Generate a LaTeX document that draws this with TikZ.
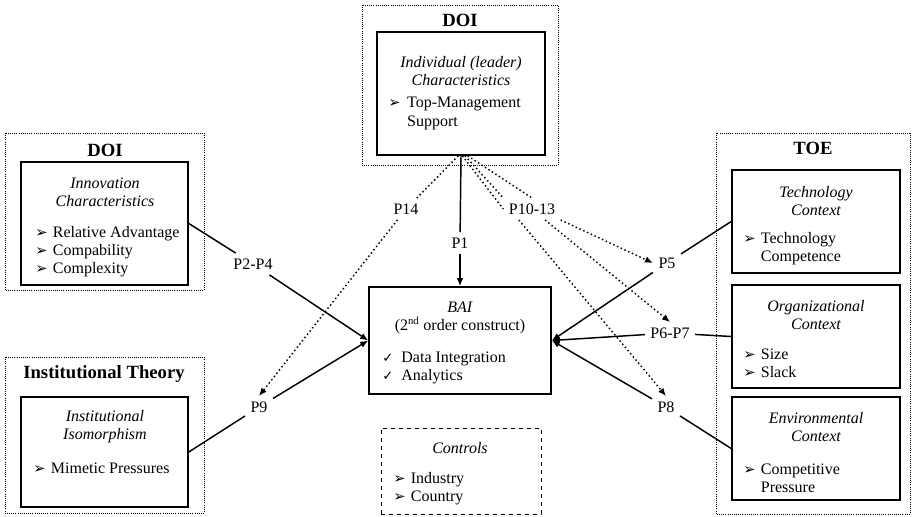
\documentclass[tikz,border=0pt]{standalone}
\usepackage{fontspec}
\setmainfont{Liberation Serif}
\newfontfamily\symfont{DejaVu Sans}
\usetikzlibrary{arrows.meta,fit,positioning}

\newcommand{\bul}{{\symfont\fontsize{11}{11}\selectfont ➢}}
\newcommand{\chk}{{\symfont\fontsize{10}{10}\selectfont ✓}}

\begin{document}
\begin{tikzpicture}[x=0.75pt,y=-0.75pt,
  font=\fontsize{12}{13.5}\selectfont,
  frame/.style={densely dotted,line width=0.6pt},
  construct/.style={draw,line width=1.2pt,inner sep=0pt},
  heading/.style={font=\fontsize{14}{16}\selectfont\bfseries},
  ctitle/.style={align=center,font=\fontsize{12}{13.5}\selectfont\itshape},
  items/.style={anchor=base west,inner sep=0pt},
  plabel/.style={inner sep=4pt},
  link/.style={line width=1.1pt},
  relarrow/.style={link,-{Latex[length=6pt,width=5pt]}},
  mod/.style={dotted,line width=1.1pt},
  modarrow/.style={mod,-{Latex[length=6pt,width=5pt]}}]
\useasboundingbox (0,0) rectangle (913,517);

% DOI (top)
\draw[frame] (362,5) rectangle (558,165);
\node[heading] at (460,20) {DOI};
\node[construct,fit={(377,32) (545,155)}] (leader) {};
\node[ctitle] at (461,71) {Individual (leader)\\Characteristics};
\node[items] at (388,108) {\begin{tabular}[t]{@{}l@{\hspace{5pt}}l@{}}
  \bul & Top-Management\\ & Support\end{tabular}};

% DOI (left)
\draw[frame] (5,133) rectangle (204,290);
\node[heading] at (105,150) {DOI};
\node[construct,fit={(21,162) (188,285)}] (innov) {};
\node[ctitle] at (105,192.5) {Innovation\\Characteristics};
\node[items] at (35,237) {\begin{tabular}[t]{@{}l@{\hspace{4pt}}l@{}}
  \bul & Relative Advantage\\ \bul & Compability\\ \bul & Complexity\end{tabular}};

% Institutional theory
\draw[frame] (5,357) rectangle (204,513);
\node[heading] at (104,374) {Institutional Theory};
\node[construct,fit={(21,397) (188,507)}] (iso) {};
\node[ctitle] at (105,427) {Institutional\\Isomorphism};
\node[items] at (33,473) {\begin{tabular}[t]{@{}l@{\hspace{4pt}}l@{}}
  \bul & Mimetic Pressures\end{tabular}};

% TOE
\draw[frame] (716,133) rectangle (910,514);
\node[heading] at (813,148) {TOE};
\node[construct,fit={(732,170) (900,273)}] (tech) {};
\node[ctitle] at (816,201) {Technology\\Context};
\node[items] at (743,243) {\begin{tabular}[t]{@{}l@{\hspace{4pt}}l@{}}
  \bul & Technology\\ & Competence\end{tabular}};
\node[construct,fit={(732,285) (900,388)}] (org) {};
\node[ctitle] at (816,315) {Organizational\\Context};
\node[items] at (743,359) {\begin{tabular}[t]{@{}l@{\hspace{4pt}}l@{}}
  \bul & Size\\ \bul & Slack\end{tabular}};
\node[construct,fit={(732,397) (900,500)}] (env) {};
\node[ctitle] at (816,427) {Environmental\\Context};
\node[items] at (743,474) {\begin{tabular}[t]{@{}l@{\hspace{4pt}}l@{}}
  \bul & Competitive\\ & Pressure\end{tabular}};

% BAI
\node[construct,fit={(369,287) (551,394)}] (bai) {};
\node[ctitle,font=\fontsize{12}{13.5}\selectfont] at (460,317.5)
  {\textit{BAI}\\(2\textsuperscript{nd} order construct)};
\node[items] at (382,362) {\begin{tabular}[t]{@{}l@{\hspace{6pt}}l@{}}
  \chk & Data Integration\\ \chk & Analytics\end{tabular}};

% Controls
\node[draw,dashed,line width=0.6pt,inner sep=0pt,fit={(381,428) (541,514)}] (controls) {};
\node[ctitle] at (460,448) {Controls};
\node[items] at (393,483) {\begin{tabular}[t]{@{}l@{\hspace{4pt}}l@{}}
  \bul & Industry\\ \bul & Country\end{tabular}};

% Propositions
\node[plabel] (p1) at (460,243) {P1};
\node[plabel] (p24) at (253,264) {P2-P4};
\node[plabel] (p5) at (667,263) {P5};
\node[plabel] (p67) at (670,333) {P6-P7};
\node[plabel] (p8) at (666,407) {P8};
\node[plabel] (p9) at (259,407) {P9};
\node[plabel] (p1013) at (532,209) {P10-13};
\node[plabel] (p14) at (406,209) {P14};

% Direct effects
\draw[link] (leader.south) -- (p1);
\draw[relarrow] (p1) -- (bai.north);
\draw[link] (innov.east) -- (p24);
\draw[relarrow] (p24) -- (bai.west);
\draw[link] (iso.east) -- (p9);
\draw[relarrow] (p9) -- (bai.west);
\draw[link] (tech.west) -- (p5);
\draw[relarrow] (p5) -- (bai.east);
\draw[link] (org.west) -- (p67);
\draw[relarrow] (p67) -- (bai.east);
\draw[link] (env.west) -- (p8);
\draw[relarrow] (p8) -- (bai.east);

% Moderating effects
\draw[mod] ([xshift=-2pt]leader.south) -- (p14);
\draw[modarrow] (p14) -- (p9.north);
\draw[mod] ([xshift=1pt]leader.south) -- (p1013.west);
\draw[mod] ([xshift=3pt]leader.south) -- (p1013.north west);
\draw[mod] ([xshift=5pt]leader.south) -- (p1013.north);
\draw[modarrow] (p1013.south east) -- (p5.west);
\draw[modarrow] (p1013.-40) -- (p67.north);
\draw[modarrow] (p1013.-140) -- (p8.north);

\end{tikzpicture}
\end{document}
